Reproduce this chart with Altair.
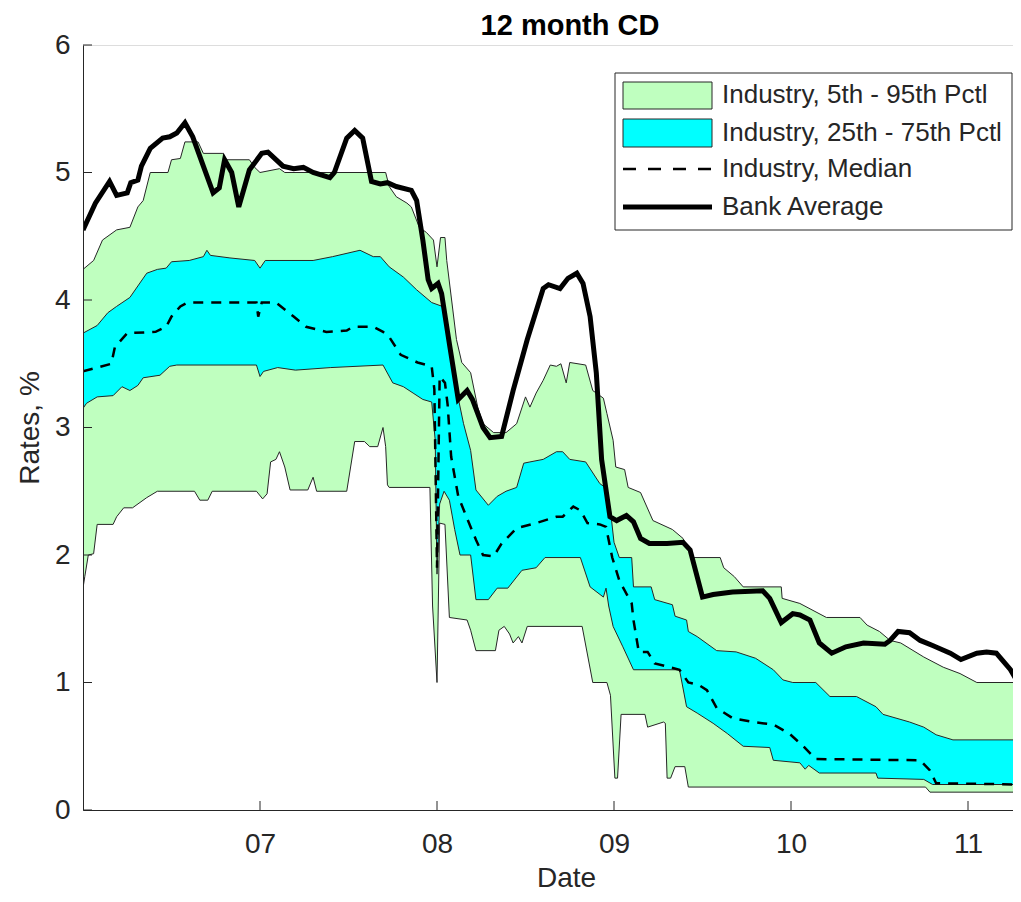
import altair as alt
import pandas as pd

TITLE = "12 month CD"
X_TITLE = "Date"
Y_TITLE = "Rates, %"
X_TICKS = [2007, 2008, 2009, 2010, 2011]
Y_TICKS = [0, 1, 2, 3, 4, 5, 6]
LEGEND_LABELS = ["Industry, 5th - 95th Pctl", "Industry, 25th - 75th Pctl",
                 "Industry, Median", "Bank Average"]

BANK_X = [2006.00, 2006.07, 2006.15, 2006.19, 2006.25, 2006.27, 2006.31, 2006.33, 2006.38, 2006.45,
          2006.49, 2006.53, 2006.576, 2006.62, 2006.68, 2006.735, 2006.77, 2006.80, 2006.84, 2006.88,
          2006.94, 2007.01, 2007.045, 2007.13, 2007.19, 2007.245, 2007.30, 2007.395, 2007.42, 2007.49,
          2007.535, 2007.58, 2007.63, 2007.68, 2007.72, 2007.77, 2007.855, 2007.885, 2007.92, 2007.95,
          2007.97, 2008.006, 2008.026, 2008.073, 2008.12, 2008.17, 2008.20, 2008.26, 2008.30, 2008.365,
          2008.43, 2008.51, 2008.60, 2008.63, 2008.695, 2008.74, 2008.79, 2008.825, 2008.865, 2008.90,
          2008.93, 2008.977, 2009.015, 2009.07, 2009.11, 2009.15, 2009.20, 2009.30, 2009.39, 2009.43,
          2009.50, 2009.56, 2009.67, 2009.84, 2009.88, 2009.945, 2010.01, 2010.05, 2010.107, 2010.16,
          2010.23, 2010.31, 2010.41, 2010.53, 2010.56, 2010.605, 2010.67, 2010.73, 2010.80, 2010.90,
          2010.96, 2011.05, 2011.105, 2011.16, 2011.24, 2011.29]
BANK_Y = [4.55, 4.76, 4.93, 4.82, 4.84, 4.92, 4.94, 5.05, 5.19, 5.27,
          5.28, 5.31, 5.39, 5.28, 5.05, 4.84, 4.88, 5.10, 5.00, 4.73,
          5.02, 5.15, 5.16, 5.05, 5.03, 5.04, 5.00, 4.96, 5.00, 5.27,
          5.33, 5.27, 4.93, 4.91, 4.92, 4.89, 4.86, 4.78, 4.47, 4.16,
          4.09, 4.13, 4.05, 3.63, 3.22, 3.29, 3.22, 3.00, 2.92, 2.93,
          3.29, 3.69, 4.09, 4.12, 4.09, 4.17, 4.21, 4.13, 3.87, 3.43,
          2.75, 2.30, 2.27, 2.31, 2.26, 2.13, 2.09, 2.09, 2.10, 2.04,
          1.67, 1.69, 1.71, 1.72, 1.66, 1.47, 1.54, 1.53, 1.49, 1.31,
          1.23, 1.28, 1.31, 1.30, 1.33, 1.40, 1.39, 1.33, 1.29, 1.23,
          1.18, 1.23, 1.24, 1.23, 1.10, 0.98]

MED_X = [2006.00, 2006.16, 2006.18, 2006.25, 2006.41, 2006.47, 2006.50, 2006.55, 2006.59, 2006.98,
         2006.99, 2007.01, 2007.09, 2007.19, 2007.26, 2007.375, 2007.49, 2007.525, 2007.64, 2007.695,
         2007.73, 2007.795, 2007.89, 2007.97, 2007.985, 2008.00, 2008.015, 2008.045, 2008.06, 2008.08,
         2008.12, 2008.175, 2008.22, 2008.26, 2008.32, 2008.365, 2008.45, 2008.56, 2008.675, 2008.71,
         2008.77, 2008.81, 2008.85, 2008.92, 2008.955, 2008.99, 2009.03, 2009.10, 2009.11, 2009.14,
         2009.19, 2009.23, 2009.37, 2009.42, 2009.48, 2009.525, 2009.58, 2009.67, 2009.785, 2009.90,
         2009.99, 2010.07, 2010.14, 2010.73, 2010.785, 2010.82, 2011.29]
MED_Y = [3.44, 3.50, 3.63, 3.74, 3.75, 3.79, 3.87, 3.95, 3.98, 3.98,
         3.87, 3.98, 3.98, 3.87, 3.79, 3.75, 3.76, 3.79, 3.79, 3.75,
         3.71, 3.57, 3.51, 3.48, 3.30, 1.90, 3.40, 3.35, 3.18, 2.77,
         2.46, 2.27, 2.12, 2.00, 1.99, 2.09, 2.21, 2.25, 2.30, 2.30,
         2.38, 2.35, 2.25, 2.24, 2.22, 1.98, 1.80, 1.62, 1.49, 1.24,
         1.24, 1.15, 1.10, 1.00, 0.98, 0.94, 0.80, 0.72, 0.69, 0.67,
         0.60, 0.50, 0.40, 0.39, 0.31, 0.21, 0.20]

P95_X = [2006.00, 2006.06, 2006.11, 2006.19, 2006.265, 2006.31, 2006.34, 2006.38, 2006.48, 2006.50,
         2006.55, 2006.576, 2006.65, 2006.68, 2006.79, 2006.81, 2006.94, 2006.97, 2007.00, 2007.11,
         2007.14, 2007.71, 2007.73, 2007.77, 2007.83, 2007.855, 2007.90, 2007.94, 2007.98, 2008.00,
         2008.02, 2008.045, 2008.055, 2008.11, 2008.14, 2008.19, 2008.23, 2008.26, 2008.32, 2008.39,
         2008.45, 2008.50, 2008.525, 2008.56, 2008.60, 2008.64, 2008.675, 2008.70, 2008.73, 2008.75,
         2008.84, 2008.88, 2008.94, 2008.96, 2008.995, 2009.01, 2009.06, 2009.08, 2009.15, 2009.22,
         2009.33, 2009.39, 2009.44, 2009.60, 2009.62, 2009.68, 2009.73, 2009.945, 2009.95, 2010.05,
         2010.20, 2010.39, 2010.43, 2010.50, 2010.56, 2010.62, 2010.75, 2010.86, 2010.955, 2011.05,
         2011.29]
P95_Y = [4.24, 4.31, 4.47, 4.55, 4.57, 4.73, 4.78, 5.00, 5.00, 5.10,
         5.11, 5.24, 5.24, 5.15, 5.15, 5.10, 5.10, 5.04, 5.00, 5.03,
         5.00, 5.00, 4.89, 4.81, 4.76, 4.73, 4.57, 4.53, 4.47, 4.26,
         4.49, 4.49, 4.31, 3.69, 3.51, 3.43, 3.16, 3.03, 2.96, 2.96,
         3.03, 3.24, 3.16, 3.27, 3.37, 3.49, 3.48, 3.50, 3.35, 3.51,
         3.49, 3.29, 3.23, 3.11, 2.90, 2.69, 2.67, 2.53, 2.49, 2.27,
         2.20, 2.13, 1.98, 1.98, 1.90, 1.83, 1.75, 1.75, 1.66, 1.62,
         1.51, 1.51, 1.45, 1.40, 1.33, 1.31, 1.20, 1.12, 1.07, 1.00,
         1.00]

P75_X = [2006.00, 2006.08, 2006.14, 2006.19, 2006.265, 2006.36, 2006.42, 2006.47, 2006.50, 2006.60,
         2006.68, 2006.70, 2006.72, 2006.83, 2006.97, 2007.00, 2007.03, 2007.30, 2007.41, 2007.565,
         2007.64, 2007.68, 2007.73, 2007.81, 2007.885, 2007.97, 2008.03, 2008.09, 2008.15, 2008.19,
         2008.22, 2008.29, 2008.34, 2008.39, 2008.45, 2008.49, 2008.525, 2008.60, 2008.675, 2008.71,
         2008.75, 2008.84, 2008.92, 2008.95, 2008.98, 2009.00, 2009.03, 2009.10, 2009.11, 2009.21,
         2009.23, 2009.33, 2009.345, 2009.41, 2009.42, 2009.47, 2009.58, 2009.69, 2009.80, 2009.90,
         2009.955, 2010.01, 2010.14, 2010.22, 2010.37, 2010.48, 2010.52, 2010.67, 2010.75, 2010.82,
         2010.915, 2011.29]
P75_Y = [3.74, 3.80, 3.90, 3.95, 4.02, 4.21, 4.24, 4.25, 4.30, 4.31,
         4.34, 4.39, 4.35, 4.33, 4.31, 4.25, 4.31, 4.31, 4.34, 4.39,
         4.34, 4.34, 4.26, 4.18, 4.08, 3.98, 3.95, 3.43, 3.03, 2.82,
         2.51, 2.39, 2.46, 2.50, 2.53, 2.72, 2.73, 2.75, 2.81, 2.81,
         2.75, 2.73, 2.56, 2.53, 2.35, 2.10, 1.98, 1.98, 1.75, 1.75,
         1.65, 1.61, 1.52, 1.49, 1.40, 1.36, 1.25, 1.24, 1.19, 1.10,
         1.02, 1.00, 1.00, 0.89, 0.89, 0.81, 0.75, 0.69, 0.65, 0.59,
         0.55, 0.55]

P25_X = [2006.00, 2006.02, 2006.08, 2006.17, 2006.22, 2006.265, 2006.31, 2006.34, 2006.435, 2006.49,
         2006.53, 2006.98, 2007.00, 2007.02, 2007.10, 2007.20, 2007.40, 2007.695, 2007.75, 2007.81,
         2007.865, 2007.92, 2007.97, 2007.99, 2008.00, 2008.015, 2008.04, 2008.07, 2008.10, 2008.13,
         2008.19, 2008.22, 2008.29, 2008.34, 2008.40, 2008.48, 2008.56, 2008.61, 2008.81, 2008.865,
         2008.94, 2008.955, 2008.97, 2008.995, 2009.05, 2009.11, 2009.37, 2009.41, 2009.47, 2009.56,
         2009.64, 2009.73, 2009.88, 2009.90, 2010.05, 2010.08, 2010.10, 2010.16, 2010.48, 2010.49,
         2010.75, 2010.80, 2011.29]
P25_Y = [3.15, 3.19, 3.24, 3.25, 3.32, 3.29, 3.33, 3.39, 3.41, 3.48,
         3.49, 3.49, 3.40, 3.44, 3.47, 3.45, 3.47, 3.49, 3.35, 3.32,
         3.27, 3.22, 3.20, 2.90, 1.85, 2.40, 2.50, 2.43, 2.20, 2.00,
         2.00, 1.65, 1.65, 1.74, 1.74, 1.88, 1.90, 1.98, 1.98, 1.75,
         1.67, 1.74, 1.60, 1.44, 1.28, 1.10, 1.10, 0.81, 0.76, 0.68,
         0.60, 0.50, 0.49, 0.39, 0.37, 0.32, 0.35, 0.29, 0.29, 0.25,
         0.24, 0.20, 0.20]

P5_X = [2006.00, 2006.01, 2006.03, 2006.06, 2006.08, 2006.17, 2006.19, 2006.23, 2006.28, 2006.36,
        2006.42, 2006.63, 2006.66, 2006.705, 2006.73, 2006.98, 2007.015, 2007.04, 2007.06, 2007.09,
        2007.11, 2007.14, 2007.17, 2007.27, 2007.30, 2007.32, 2007.49, 2007.535, 2007.59, 2007.62,
        2007.665, 2007.695, 2007.71, 2007.72, 2007.73, 2007.96, 2007.975, 2008.00, 2008.015, 2008.045,
        2008.07, 2008.17, 2008.19, 2008.22, 2008.33, 2008.35, 2008.38, 2008.41, 2008.43, 2008.46,
        2008.48, 2008.51, 2008.82, 2008.88, 2008.96, 2008.98, 2009.005, 2009.02, 2009.04, 2009.175,
        2009.19, 2009.28, 2009.29, 2009.30, 2009.32, 2009.345, 2009.40, 2009.42, 2010.76, 2010.785,
        2011.29]
P5_Y = [1.74, 1.83, 2.00, 2.01, 2.24, 2.24, 2.30, 2.37, 2.37, 2.45,
        2.50, 2.50, 2.43, 2.43, 2.50, 2.50, 2.44, 2.48, 2.73, 2.75,
        2.81, 2.69, 2.51, 2.51, 2.61, 2.50, 2.50, 2.89, 2.89, 2.85,
        2.85, 3.00, 2.85, 2.55, 2.53, 2.53, 1.60, 1.00, 2.25, 2.24,
        1.51, 1.49, 1.41, 1.25, 1.25, 1.41, 1.44, 1.38, 1.31, 1.36,
        1.31, 1.44, 1.44, 1.00, 1.00, 0.90, 0.25, 0.25, 0.75, 0.75,
        0.65, 0.69, 0.68, 0.25, 0.25, 0.34, 0.34, 0.18, 0.18, 0.14,
        0.14]

GREEN = "#BFFFBF"
CYAN = "#00FFFF"
AX = "#262626"
FONT = "Liberation Sans"
W, H = 930, 765

xscale = alt.Scale(domain=[2006.0, 2006.0 + W / 177.0], nice=False, zero=False)
yscale = alt.Scale(domain=[0, 6], nice=False)
xaxis = alt.Axis(values=X_TICKS, labelExpr="substring(toString(datum.value), 2, 4)",
                 title=X_TITLE, grid=False, ticks=False, tickSize=0, labelPadding=20,
                 labelFontSize=28, labelFont=FONT, labelColor=AX, domainColor=AX,
                 titleFontSize=28, titleFont=FONT, titleFontWeight="normal", titleColor=AX,
                 titleX=483, titleY=76, titleBaseline="alphabetic", titleAlign="center",
                 zindex=1)
yaxis = alt.Axis(values=Y_TICKS, format="d", title=Y_TITLE, grid=False, ticks=False, tickSize=0,
                 labelPadding=13, labelFontSize=28, labelFont=FONT, labelColor=AX, domainColor=AX,
                 titleFontSize=28, titleFont=FONT, titleFontWeight="normal", titleColor=AX,
                 titleX=-53, titleY=H / 2, titleAngle=270, titleBaseline="middle",
                 titleAlign="center", zindex=1)


def xe(f):
    return alt.X(f + ":Q", scale=xscale, axis=xaxis)


def ye(f):
    return alt.Y(f + ":Q", scale=yscale, axis=yaxis)


def df(xs, ys):
    return pd.DataFrame({"d": xs, "r": ys})


def area(xs, ys, color):
    return alt.Chart(df(xs, ys)).mark_area(color=color, clip=True, interpolate="linear").encode(
        x=xe("d"), y=ye("r"))


def line(xs, ys, width, dash=None, color="black"):
    kw = dict(color=color, strokeWidth=width, clip=True, interpolate="linear")
    if dash:
        kw["strokeDash"] = dash
    return alt.Chart(df(xs, ys)).mark_line(**kw).encode(x=xe("d"), y=ye("r"))


layers = [
    area(P95_X, P95_Y, GREEN),
    area(P75_X, P75_Y, CYAN),
    area(P25_X, P25_Y, GREEN),
    area(P5_X, P5_Y, "white"),
    line(P95_X, P95_Y, 1, color=AX),
    line(P75_X, P75_Y, 1, color=AX),
    line(P25_X, P25_Y, 1, color=AX),
    line(P5_X, P5_Y, 1, color=AX),
    line(MED_X, MED_Y, 2.5, dash=[10, 8]),
    line(BANK_X, BANK_Y, 5),
]

# inward tick marks
xt = alt.Chart(pd.DataFrame({"t": X_TICKS})).mark_rule(color=AX, strokeWidth=1).encode(
    x=xe("t"), y=alt.value(H), y2=alt.value(H - 9))
yt = alt.Chart(pd.DataFrame({"t": Y_TICKS})).mark_rule(color=AX, strokeWidth=1).encode(
    y=ye("t"), x=alt.value(0), x2=alt.value(9))
layers += [xt, yt]

one = pd.DataFrame({"k": [0]})

# legend
box = alt.Chart(one).mark_rect(fill="white", stroke=AX, strokeWidth=1).encode(
    x=alt.value(532), x2=alt.value(929), y=alt.value(28), y2=alt.value(185))
sw1 = alt.Chart(one).mark_rect(fill=GREEN, stroke=AX, strokeWidth=1).encode(
    x=alt.value(540), x2=alt.value(629), y=alt.value(37), y2=alt.value(64))
sw2 = alt.Chart(one).mark_rect(fill=CYAN, stroke=AX, strokeWidth=1).encode(
    x=alt.value(540), x2=alt.value(629), y=alt.value(74), y2=alt.value(102))
ld = alt.Chart(one).mark_rule(color="black", strokeWidth=2.5, strokeDash=[13, 12]).encode(
    x=alt.value(540), x2=alt.value(629), y=alt.value(124))
ls = alt.Chart(one).mark_rule(color="black", strokeWidth=5).encode(
    x=alt.value(540), x2=alt.value(629), y=alt.value(162))
layers += [box, sw1, sw2, ld, ls]
for lab, yy in zip(LEGEND_LABELS, [50, 88, 124, 162]):
    layers.append(alt.Chart(one).mark_text(align="left", baseline="middle", fontSize=26,
                                           font=FONT, color=AX).encode(
        x=alt.value(639), y=alt.value(yy), text=alt.value(lab)))

chart = alt.layer(*layers).properties(
    width=W, height=H,
    title=alt.TitleParams(TITLE, fontSize=29, fontWeight="bold", font=FONT, color="black",
                          offset=-10, dx=22, anchor="middle"),
    padding={"left": 75, "top": 37, "right": 0, "bottom": 82},
    autosize=alt.AutoSizeParams(type="none"),
).configure_view(stroke=None).configure(background="white")

chart.save("out.html", embed_options={"renderer": "svg", "actions": False})
